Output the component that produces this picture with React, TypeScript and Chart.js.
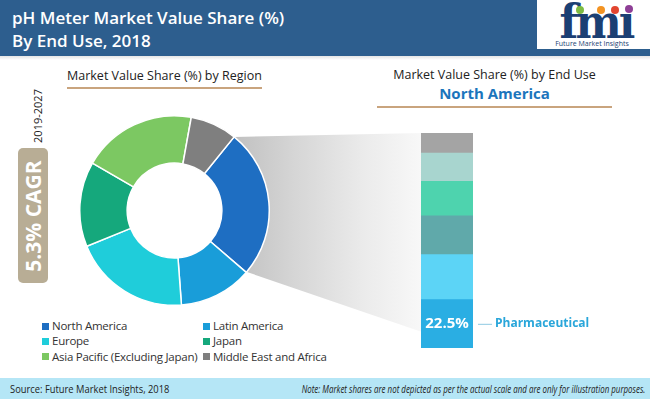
import React, { useEffect, useRef } from "react";
import { Chart, registerables } from "chart.js";
Chart.register(...registerables);

const regions = [
  "North America",
  "Latin America",
  "Europe",
  "Japan",
  "Asia Pacific (Excluding Japan)",
  "Middle East and Africa",
];
const regionShares = [25.5, 12.5, 20, 14.5, 19.5, 8];
const regionColors = ["#1E6EC2", "#199DD9", "#1FCDDA", "#15A87C", "#7CC862", "#7F7F7F"];

const endUses = [
  "Pharmaceutical",
  "Food & Beverages",
  "Chemical",
  "Water & Wastewater Treatment",
  "Biotechnology",
  "Others",
];
const endUseShares = [22.5, 20.9, 18.1, 16, 13.2, 9.3];
const endUseColors = ["#2AAEE3", "#5CD4F6", "#60A9AA", "#4ED3AE", "#A8D5CF", "#A4A4A4"];
const labelledEndUse = 0;

const FONT = "'Open Sans', 'Noto Sans', sans-serif";

export default function App() {
  const donutRef = useRef<HTMLCanvasElement | null>(null);
  const barRef = useRef<HTMLCanvasElement | null>(null);

  useEffect(() => {
    const donut = new Chart(donutRef.current!, {
      type: "doughnut",
      data: {
        labels: regions,
        datasets: [
          {
            data: regionShares,
            backgroundColor: regionColors,
            borderColor: "#ffffff",
            borderWidth: 1.5,
          },
        ],
      },
      options: {
        responsive: false,
        animation: false,
        rotation: 39,
        cutout: "50%",
        layout: { padding: 0 },
        plugins: { legend: { display: false }, tooltip: { enabled: false } },
      },
    });

    const labelPlugin = {
      id: "endUseLabel",
      afterDatasetsDraw(chart: any) {
        const meta = chart.getDatasetMeta(labelledEndUse);
        const el = meta.data[0];
        if (!el) return;
        const ctx = chart.ctx;
        const cy = (el.y + el.base) / 2;
        const right = el.x + el.width / 2;
        ctx.save();
        ctx.fillStyle = "#ffffff";
        ctx.font = `bold 15px ${FONT}`;
        ctx.textAlign = "center";
        ctx.textBaseline = "middle";
        ctx.fillText(endUseShares[labelledEndUse].toFixed(1) + "%", el.x, cy);
        ctx.strokeStyle = "#8FC9E2";
        ctx.lineWidth = 1;
        ctx.beginPath();
        ctx.moveTo(right + 5, cy + 0.5);
        ctx.lineTo(right + 19, cy + 0.5);
        ctx.stroke();
        ctx.fillStyle = "#29A6DA";
        ctx.font = `bold 12px ${FONT}`;
        ctx.textAlign = "left";
        ctx.fillText(endUses[labelledEndUse], right + 22, cy);
        ctx.restore();
      },
    };

    const bar = new Chart(barRef.current!, {
      type: "bar",
      data: {
        labels: ["North America"],
        datasets: endUses.map((name, i) => ({
          label: name,
          data: [endUseShares[i]],
          backgroundColor: endUseColors[i],
          borderWidth: 0,
          barPercentage: 1,
          categoryPercentage: 1,
        })),
      },
      options: {
        responsive: false,
        animation: false,
        layout: { padding: { left: 0, right: 148, top: 0, bottom: 0 } },
        scales: {
          x: { display: false, stacked: true },
          y: { display: false, stacked: true, min: 0, max: 100 },
        },
        plugins: { legend: { display: false }, tooltip: { enabled: false } },
      },
      plugins: [labelPlugin],
    });

    return () => {
      donut.destroy();
      bar.destroy();
    };
  }, []);

  const abs = (s: React.CSSProperties): React.CSSProperties => ({ position: "absolute", ...s });

  return (
    <div
      style={{
        position: "fixed",
        left: 0,
        top: 0,
        width: 650,
        height: 399,
        overflow: "hidden",
        background: "#ffffff",
        fontFamily: FONT,
      }}
    >
      {/* header */}
      <div style={abs({ left: 0, top: 0, width: 650, height: 56, background: "#2D5E8E" })} />
      <div style={abs({ left: 0, top: 56, width: 650, height: 4, background: "linear-gradient(#e4e4e4, #ffffff)" })} />
      <div
        style={abs({
          left: 12,
          top: 6,
          color: "#ffffff",
          fontSize: 17,
          fontWeight: 600,
          lineHeight: "23px",
          whiteSpace: "nowrap",
        })}
      >
        pH Meter Market Value Share (%)
        <br />
        By End Use, 2018
      </div>
      <div style={abs({ left: 537, top: 0, width: 113, height: 49, background: "#ffffff" })} />
      <div
        style={abs({
          left: 550,
          top: 1,
          width: 92,
          textAlign: "center",
          fontFamily: "'DejaVu Serif', serif",
          fontWeight: 700,
          fontSize: 46,
          lineHeight: "42px",
          color: "#1B3F73",
          letterSpacing: -3,
          transform: "scaleX(0.95)",
        })}
      >
        fmı
      </div>
      <div style={abs({ left: 576, top: 6, width: 8, height: 8, borderRadius: 4, background: "#7DBB42" })} />
      <div style={abs({ left: 597, top: 6, width: 8, height: 8, borderRadius: 4, background: "#F39322" })} />
      <div style={abs({ left: 611, top: 6, width: 8, height: 8, borderRadius: 4, background: "#E2452F" })} />
      <div style={abs({ left: 625, top: 5, width: 8, height: 8, borderRadius: 4, background: "#8E3F96" })} />
      <div
        style={abs({
          left: 547,
          top: 39,
          width: 90,
          textAlign: "center",
          fontSize: 7,
          lineHeight: "9px",
          color: "#1B3F73",
          whiteSpace: "nowrap",
        })}
      >
        Future Market Insights
      </div>

      {/* CAGR */}
      <div style={abs({ left: 18, top: 148, width: 30, height: 135, background: "#B8AD95", borderRadius: 5 })} />
      <div
        style={abs({
          left: 33 - 70,
          top: 215.5 - 15,
          width: 140,
          height: 30,
          lineHeight: "30px",
          textAlign: "center",
          color: "#ffffff",
          fontWeight: 700,
          fontSize: 21,
          transform: "rotate(-90deg)",
          whiteSpace: "nowrap",
        })}
      >
        5.3% CAGR
      </div>
      <div
        style={abs({
          left: 38 - 40,
          top: 116 - 8,
          width: 80,
          height: 16,
          lineHeight: "16px",
          textAlign: "center",
          color: "#222222",
          fontSize: 11,
          transform: "rotate(-90deg)",
          whiteSpace: "nowrap",
        })}
      >
        2019-2027
      </div>

      {/* left title */}
      <div style={abs({ left: 67, top: 67, fontSize: 12.5, lineHeight: "18px", color: "#222222", whiteSpace: "nowrap" })}>
        Market Value Share (%) by Region
      </div>
      <div style={abs({ left: 67, top: 87, width: 195, height: 2, background: "#C9A47E" })} />

      {/* right title */}
      <div
        style={abs({
          left: 377,
          top: 66,
          width: 235,
          textAlign: "center",
          fontSize: 12.5,
          lineHeight: "18px",
          color: "#222222",
          whiteSpace: "nowrap",
        })}
      >
        Market Value Share (%) by End Use
      </div>
      <div
        style={abs({
          left: 377,
          top: 82,
          width: 235,
          textAlign: "center",
          fontSize: 15,
          fontWeight: 700,
          lineHeight: "22px",
          color: "#1B75BC",
          whiteSpace: "nowrap",
        })}
      >
        North America
      </div>
      <div style={abs({ left: 377, top: 106, width: 235, height: 2, background: "#C9A47E" })} />

      {/* connector */}
      <div
        style={abs({
          left: 228,
          top: 130,
          width: 194,
          height: 205,
          background: "linear-gradient(90deg, #BEBEBE 0%, #D6D6D6 35%, #EBEBEB 70%, #F8F8F8 100%)",
          clipPath: "polygon(6px 7px, 194px 3px, 194px 202px, 19px 142px)",
        })}
      />

      {/* charts */}
      <canvas ref={donutRef} width={191} height={191} style={abs({ left: 79, top: 115 })} />
      <canvas ref={barRef} width={200} height={215} style={abs({ left: 421, top: 133 })} />

      {/* legend */}
      {regions.map((r, i) => {
        const col = i % 2;
        const row = Math.floor(i / 2);
        const x = col === 0 ? 42 : 203;
        const y = 326 + row * 15.3;
        return (
          <div key={r} style={abs({ left: x, top: y - 8, height: 16, whiteSpace: "nowrap" })}>
            <span
              style={{
                position: "absolute",
                left: 0,
                top: 4.5,
                width: 7,
                height: 7,
                background: regionColors[i],
              }}
            />
            <span
              style={{
                position: "absolute",
                left: 10,
                top: 0,
                fontSize: 11.5,
                letterSpacing: -0.25,
                lineHeight: "16px",
                color: "#333333",
              }}
            >
              {r}
            </span>
          </div>
        );
      })}

      {/* footer */}
      <div style={abs({ left: 0, top: 378, width: 650, height: 21, background: "#B5E6F6" })} />
      <div
        style={abs({
          left: 10,
          top: 381,
          fontSize: 11,
          lineHeight: "15px",
          color: "#222222",
          whiteSpace: "nowrap",
          transform: "scaleX(0.85)",
          transformOrigin: "left center",
        })}
      >
        Source: Future Market Insights, 2018
      </div>
      <div
        style={abs({
          right: 5,
          top: 381,
          fontSize: 11,
          lineHeight: "15px",
          color: "#222222",
          fontStyle: "italic",
          whiteSpace: "nowrap",
          transform: "scaleX(0.72)",
          transformOrigin: "right center",
        })}
      >
        Note: Market shares are not depicted as per the actual scale and are only for illustration purposes.
      </div>
    </div>
  );
}
